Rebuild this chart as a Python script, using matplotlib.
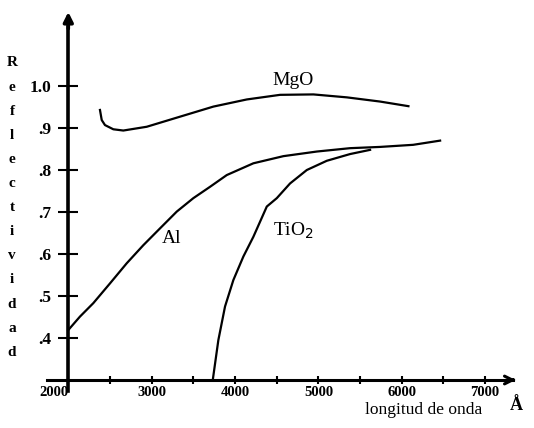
import matplotlib
matplotlib.use('Agg')
import matplotlib.pyplot as plt
from matplotlib.ticker import FixedLocator

plt.rcParams['font.family'] = ['Liberation Serif', 'DejaVu Serif']

# curves (wavelength in angstrom, reflectivity)
mgo_x = [2380, 2401, 2440, 2540, 2660, 2941, 3340, 3740, 4141, 4540, 4940, 5341, 5740, 6080]
mgo_y = [0.943, 0.919, 0.907, 0.897, 0.894, 0.903, 0.927, 0.951, 0.968, 0.979, 0.980, 0.973, 0.963, 0.952]

al_x = [2000, 2140, 2300, 2500, 2701, 2900, 3100, 3301, 3500, 3700, 3901, 4220, 4580, 4981,
        5380, 5740, 6137, 6460]
al_y = [0.419, 0.451, 0.483, 0.530, 0.578, 0.621, 0.661, 0.701, 0.733, 0.760, 0.788, 0.816,
        0.833, 0.844, 0.852, 0.855, 0.860, 0.870]

tio2_x = [3733, 3800, 3880, 3980, 4100, 4220, 4381, 4501, 4660, 4861, 5101, 5380, 5620]
tio2_y = [0.300, 0.395, 0.475, 0.538, 0.594, 0.641, 0.713, 0.733, 0.768, 0.800, 0.822, 0.838, 0.848]

x_ticks = [2000, 3000, 4000, 5000, 6000, 7000]
x_minor = [2500, 3500, 4500, 5500, 6500]
y_ticks = [0.4, 0.5, 0.6, 0.7, 0.8, 0.9, 1.0]
y_labels = ['.4', '.5', '.6', '.7', '.8', '.9', '1.0']
ylabel = 'Reflectividad'

fig = plt.figure(figsize=(5.34, 4.28), dpi=100)
ax = fig.add_axes([0.0873, 0.0876, 0.8727, 0.8488])
ax.set_xlim(1740, 7330)
ax.set_ylim(0.275, 1.14)

for x, y in [(mgo_x, mgo_y), (al_x, al_y), (tio2_x, tio2_y)]:
    ax.plot(x, y, color='black', lw=1.6, clip_on=False, solid_joinstyle='round')

# axes drawn through the origin (2000, 0.30)
for s in ['top', 'right']:
    ax.spines[s].set_visible(False)
ax.spines['left'].set_position(('data', 2000))
ax.spines['bottom'].set_position(('data', 0.30))
ax.spines['left'].set_linewidth(2.6)
ax.spines['bottom'].set_linewidth(2.2)

ax.annotate('', xy=(2000, 1.183), xytext=(2000, 1.13), annotation_clip=False,
            arrowprops=dict(arrowstyle='-|>', lw=2.6, color='black', mutation_scale=14))
ax.annotate('', xy=(7400, 0.30), xytext=(7300, 0.30), annotation_clip=False,
            arrowprops=dict(arrowstyle='->', lw=2.2, color='black', mutation_scale=14))

ax.xaxis.set_major_locator(FixedLocator(x_ticks))
ax.xaxis.set_minor_locator(FixedLocator(x_minor))
ax.set_xticklabels([str(t) for t in x_ticks], fontsize=10.5, fontweight='bold')
ax.xaxis.get_majorticklabels()[0].set_horizontalalignment('right')
ax.tick_params(axis='x', which='both', direction='inout', length=6, width=1.5, pad=1.5)

ax.set_yticks(y_ticks)
ax.set_yticklabels(y_labels, fontsize=12.5, fontweight='bold')
ax.tick_params(axis='y', direction='inout', length=14, width=1.5, pad=5)

ax.text(4696, 1.012, 'MgO', fontsize=14, ha='center', va='center')
ax.text(3244, 0.638, 'Al', fontsize=14, ha='center', va='center')
ax.text(4700, 0.655, 'TiO$_2$', fontsize=14, ha='center', va='center')

ax.text(6268, 0.229, 'longitud de onda', fontsize=12.5, ha='center', va='center', clip_on=False)
ax.text(7372, 0.24, 'Å', fontsize=13, ha='center', va='center', fontweight='bold', clip_on=False)

for i, ch in enumerate(ylabel):
    fig.text(12 / 534, 1 - (63 + 24.1 * i) / 428, ch, fontsize=11, fontweight='bold',
             ha='center', va='center')

fig.savefig('out.png', dpi=100)
